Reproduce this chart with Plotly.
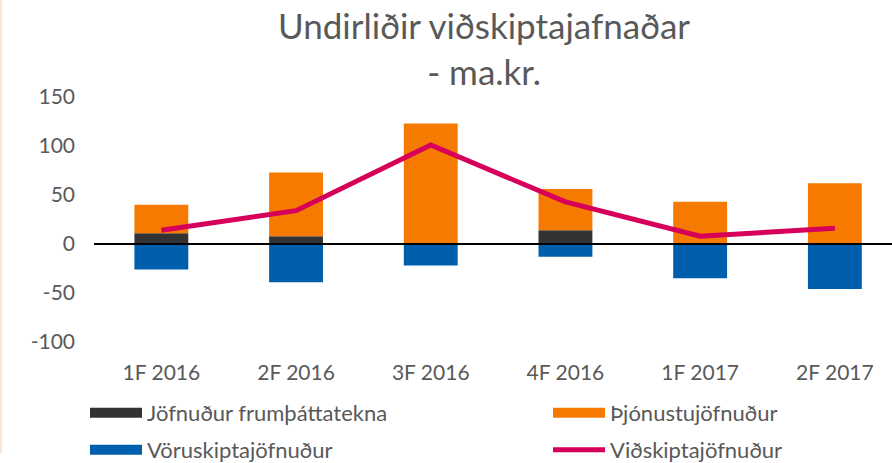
import plotly.graph_objects as go

categories = ["1F 2016", "2F 2016", "3F 2016", "4F 2016", "1F 2017", "2F 2017"]
frumthatta = [11, 8, 0, 14, 0, 0]
thjonusta = [29, 65, 123, 42, 43, 62]
voruskipti = [-26, -39, -22, -13, -35, -46]
vidskipti = [14, 34, 101, 43, 8, 16]

names = ["Jöfnuður frumþáttatekna", "Þjónustujöfnuður", "Vöruskiptajöfnuður", "Viðskiptajöfnuður"]
colors = ["#333333", "#F77A00", "#005FAD", "#D6005B"]
yticks = [-100, -50, 0, 50, 100, 150]
yticktext = ["-100", "-50", "0", "50", "100", "150"]
title_text = "Undirliðir viðskiptajafnaðar<br>- ma.kr."

FONT = "Lato"
GRAY = "#595959"
W, H = 892, 463
ML, MR, MT, MB = 94, 0, 97, 121
PW, PH = W - ML - MR, H - MT - MB


def px_x(px):
    return (px - ML) / PW


def px_y(py):
    return 1 - (py - MT) / PH


# legend slots: (left px of legend box, centre y px)
slots = [(85, 413), (548, 413), (85, 450), (548, 450)]
legend_ids = ["legend", "legend2", "legend3", "legend4"]

fig = go.Figure()
for i, (vals, name, col) in enumerate(zip([frumthatta, thjonusta, voruskipti], names[:3], colors[:3])):
    fig.add_trace(go.Bar(x=categories, y=vals, name=name, legendgroup=name, showlegend=False,
                         marker=dict(color=col, line=dict(width=0))))
    # legend swatch (wide rectangle like the original) for the bar series
    fig.add_trace(go.Scatter(x=[None], y=[None], name=name, legendgroup=name, mode="lines",
                             legend=legend_ids[i], showlegend=True, hoverinfo="skip",
                             line=dict(color=col, width=13)))
fig.add_trace(go.Scatter(x=categories, y=vidskipti, name=names[3], mode="lines", legend=legend_ids[3],
                         showlegend=True, line=dict(color=colors[3], width=5)))

legends = {}
for lid, (lx, ly) in zip(legend_ids, slots):
    legends[lid] = dict(x=px_x(lx), xanchor="left", y=px_y(ly), yanchor="middle",
                        orientation="h", itemwidth=52, bgcolor="rgba(0,0,0,0)",
                        font=dict(size=22, color=GRAY, family=FONT))

fig.update_layout(
    width=W, height=H, showlegend=True,
    margin=dict(l=ML, r=MR, t=MT, b=MB, pad=0, autoexpand=False),
    paper_bgcolor="white", plot_bgcolor="white",
    barmode="relative", bargap=0.6,
    font=dict(family=FONT, color=GRAY, size=21),
    xaxis=dict(range=[-0.5, -0.5 + PW / 134.7], showgrid=False, showline=False, ticks="",
               ticklabelstandoff=16, tickfont=dict(size=21, color=GRAY), automargin=False),
    yaxis=dict(range=[-100, 150], tickvals=yticks, ticktext=yticktext, showgrid=False,
               zeroline=False, showline=False, ticks="", ticklabelstandoff=18,
               tickfont=dict(size=21, color=GRAY), automargin=False),
    annotations=[dict(text=title_text, xref="paper", yref="paper", x=px_x(484), y=px_y(2),
                      xanchor="center", yanchor="top", showarrow=False, align="center",
                      font=dict(size=35, color=GRAY, family=FONT))],
    shapes=[
        dict(type="line", xref="paper", x0=0, x1=1, yref="y", y0=0, y1=0,
             line=dict(color="black", width=2), layer="above"),
        dict(type="line", xref="paper", x0=px_x(1), x1=px_x(1), yref="paper",
             y0=px_y(0), y1=px_y(453), line=dict(color="#FBE3D5", width=2)),
    ],
    **legends,
)

fig.write_html("out.html", config={"displayModeBar": False},
               post_script="document.body.style.margin='0';")
